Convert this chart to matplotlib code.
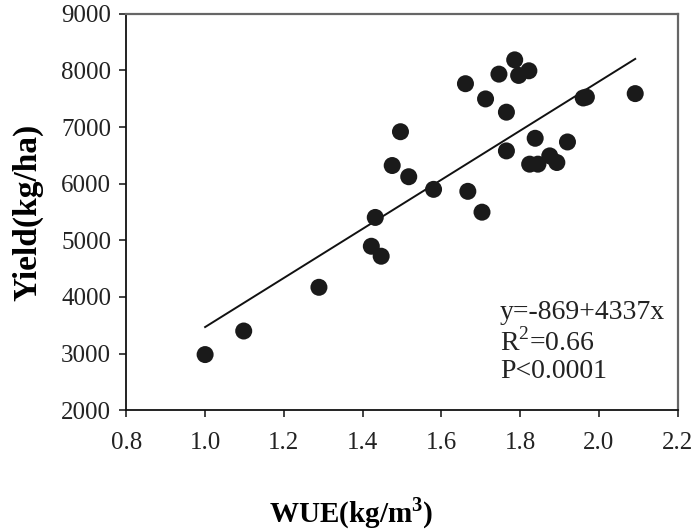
import matplotlib
matplotlib.use("Agg")
import matplotlib.pyplot as plt

plt.rcParams["font.family"] = ["Liberation Serif", "DejaVu Serif"]
plt.rcParams["mathtext.fontset"] = "custom"
plt.rcParams["mathtext.rm"] = "Liberation Serif"
plt.rcParams["mathtext.bf"] = "Liberation Serif:bold"

# WUE (kg/m3) vs yield (kg/ha)
wue = [1.000, 1.098, 1.289, 1.422, 1.432, 1.447, 1.475, 1.496, 1.517, 1.580,
       1.661, 1.667, 1.703, 1.712, 1.746, 1.765, 1.765, 1.786, 1.796, 1.822,
       1.824, 1.838, 1.845, 1.875, 1.893, 1.920, 1.960, 1.968, 2.092]
yld = [2982, 3398, 4170, 4895, 5404, 4719, 6321, 6918, 6123, 5900,
       7766, 5865, 5497, 7497, 7935, 7263, 6579, 8187, 7912, 7994,
       6345, 6802, 6345, 6491, 6374, 6737, 7514, 7530, 7591]

intercept = -869
slope = 4337
fit_x = [1.0, 2.092]
fit_y = [intercept + slope * v for v in fit_x]

xticks = [0.8, 1.0, 1.2, 1.4, 1.6, 1.8, 2.0, 2.2]
yticks = [2000, 3000, 4000, 5000, 6000, 7000, 8000, 9000]

fig = plt.figure(figsize=(6.98, 5.32), dpi=100)
ax = fig.add_axes([0.181, 0.229, 0.790, 0.745])

ax.plot(fit_x, fit_y, color="#111111", lw=1.4, zorder=2)
ax.scatter(wue, yld, s=150, color="#1a1a1a", edgecolors="none", zorder=3)

ax.set_xlim(0.8, 2.2)
ax.set_ylim(2000, 9000)
ax.set_xticks(xticks)
ax.set_xticklabels(["%.1f" % v for v in xticks])
ax.set_yticks(yticks)
ax.set_yticklabels([str(v) for v in yticks])
ax.tick_params(direction="out", length=5, width=1.2, labelsize=18,
               colors="#222222", pad=6)
ax.tick_params(axis="x", pad=11)

for side in ["left", "bottom"]:
    ax.spines[side].set_color("#111111")
    ax.spines[side].set_linewidth(1.3)
for side in ["top", "right"]:
    ax.spines[side].set_color("#666666")
    ax.spines[side].set_linewidth(1.6)

ax.set_xlabel(r"WUE(kg/m$^{\mathbf{3}}$)", fontsize=21, fontweight="bold")
ax.xaxis.set_label_coords(0.408, -0.215)
ax.set_ylabel("Yield(kg/ha)", fontsize=24, fontweight="bold", labelpad=13)

ax.text(1.749, 3719, "y=-869+4337x", fontsize=20, va="center", ha="left",
        color="#222222")
ax.text(1.749, 3195, r"R$^2$=0.66", fontsize=20, va="center", ha="left",
        color="#222222")
ax.text(1.749, 2684, "P<0.0001", fontsize=20, va="center", ha="left",
        color="#222222")

fig.savefig("out.png", dpi=100)
